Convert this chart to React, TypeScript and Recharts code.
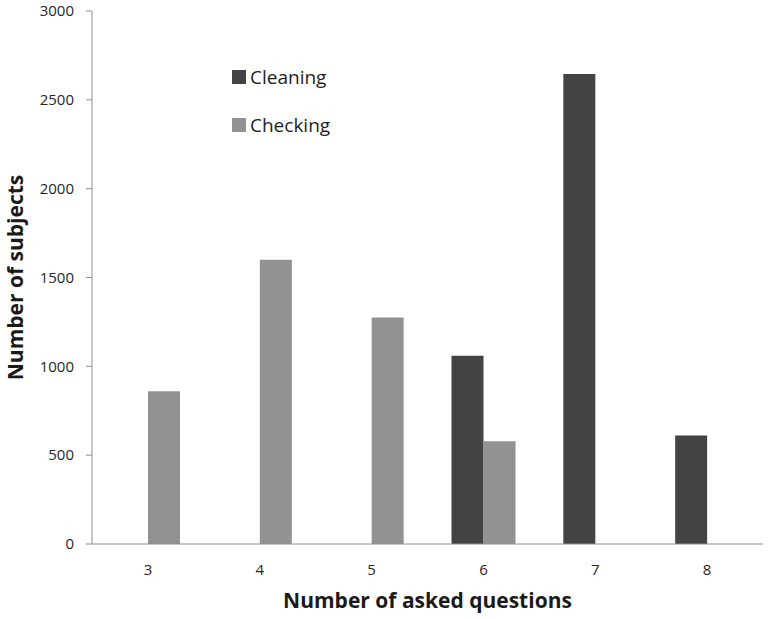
import React from "react";
import { BarChart, Bar, XAxis, YAxis, Legend } from "recharts";

const questions = ["3", "4", "5", "6", "7", "8"];
const cleaning = [0, 0, 0, 1060, 2645, 610];
const checking = [860, 1600, 1275, 578, 0, 0];
const yTicks = [0, 500, 1000, 1500, 2000, 2500, 3000];
const seriesOrder = ["Cleaning", "Checking"];

const DARK = "#434343";
const LIGHT = "#929292";
const AXIS = "#8f8f8f";
const FONT = "'Open Sans', 'DejaVu Sans', sans-serif";

const rows = questions.map((q, i) => ({ q, cleaning: cleaning[i], checking: checking[i] }));

function LegendBox({ payload }: any) {
  const items = [...(payload || [])].sort(
    (a: any, b: any) => seriesOrder.indexOf(a.value) - seriesOrder.indexOf(b.value)
  );
  return (
    <div style={{ fontFamily: FONT }}>
      {items.map((p: any) => (
        <div key={p.value} style={{ display: "flex", alignItems: "center", height: 48 }}>
          <span style={{ width: 14, height: 14, background: p.color, display: "inline-block", marginRight: 4 }} />
          <span style={{ fontSize: 19, color: "#1e1e1e" }}>{p.value}</span>
        </div>
      ))}
    </div>
  );
}

function YTitle({ viewBox }: any) {
  const cy = viewBox.y + viewBox.height / 2;
  return (
    <text
      x={15} y={cy}
      transform={`rotate(-90, 15, ${cy})`}
      textAnchor="middle" dominantBaseline="central"
      style={{ fontFamily: FONT, fontSize: 21, fontWeight: 700, fill: "#1a1a1a" }}
    >
      Number of subjects
    </text>
  );
}

export default function App() {
  return (
    <div style={{ position: "absolute", left: 0, top: 0, background: "#fff" }}>
      <BarChart
        width={768} height={619} data={rows}
        margin={{ top: 11, right: 5, left: 0, bottom: 0 }}
        barGap={0} barSize={32}
      >
        <XAxis
          dataKey="q" height={75} tickLine={false} tickMargin={14}
          stroke={AXIS}
          tick={{ fill: "#262626", fontSize: 15, fontFamily: FONT }}
          label={{
            value: "Number of asked questions", position: "insideBottom", offset: 11,
            style: { fontFamily: FONT, fontSize: 21, fontWeight: 700, fill: "#1a1a1a" },
          }}
        />
        <YAxis
          width={92} domain={[0, 3000]} ticks={yTicks} interval={0}
          stroke={AXIS} tickSize={6} tickMargin={12}
          tick={{ fill: "#262626", fontSize: 15, fontFamily: FONT }}
          label={{ content: (p: any) => <YTitle {...p} /> }}
        />
        <Legend
          layout="horizontal" verticalAlign="middle" align="center"
          wrapperStyle={{ left: 232, top: 53, width: 140, height: 96 }}
          content={(p: any) => <LegendBox {...p} />}
        />
        <Bar dataKey="cleaning" name="Cleaning" fill={DARK} isAnimationActive={false} />
        <Bar dataKey="checking" name="Checking" fill={LIGHT} isAnimationActive={false} />
      </BarChart>
    </div>
  );
}
